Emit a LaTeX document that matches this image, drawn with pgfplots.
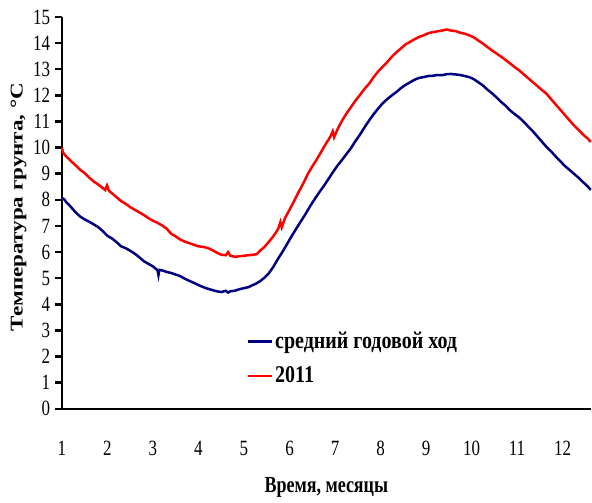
\documentclass[border=0pt]{standalone}
\usepackage{pgfplots}
\pgfplotsset{compat=1.18}
\usepackage{fontspec}
\setmainfont{Liberation Serif}
\definecolor{navyb}{RGB}{0,0,128}
\definecolor{redr}{RGB}{255,0,0}
\begin{document}
\fontsize{17}{20}\selectfont
\begin{tikzpicture}
\begin{axis}[
  scale only axis,
  width=529pt, height=392pt,
  xmin=1, xmax=12.62, ymin=0, ymax=15,
  axis x line=bottom, axis y line=left,
  axis line style={line width=2.5pt,-},
  xtick={1,...,12}, ytick={0,...,15},
  x tick style={draw=none},
  y tick style={line width=2.5pt,black},
  tick align=outside,
  major tick length=7pt,
  xticklabel style={yshift=-14pt},
  yticklabel style={xshift=1pt},
  /pgf/number format/assume math mode=true,
  ticklabel style={font=\fontsize{17}{20}\selectfont, yscale=1.28},
  xlabel={\scalebox{1}[1.28]{\textbf{Время, месяцы}}},
  ylabel={\scalebox{1.28}[1]{\textbf{Температура грунта, °C}}},
  label style={font=\fontsize{18}{20}\selectfont},
  xlabel style={yshift=-8pt},
  ylabel style={yshift=-5pt, xshift=6pt},
  legend style={draw=none, fill=none, at={(0.343,0.208)}, anchor=north west,
    font=\fontsize{20}{22}\selectfont\bfseries, row sep=10pt,
    /tikz/every even column/.append style={column sep=2pt},
    nodes={yscale=1.2}},
  legend cell align=left,
  legend image post style={line width=2.5pt},
  legend image code/.code={\draw[#1] (0cm,0cm) -- (0.85cm,0cm);},
  clip=false,
]
\addplot[navyb, line width=2.5pt] coordinates {
(1.0,8.07)(1.05,8.02)(1.1,7.90)(1.15,7.82)(1.2,7.72)(1.3,7.52)(1.4,7.36)(1.5,7.25)
(1.6,7.16)(1.7,7.06)(1.8,6.95)(1.9,6.80)(2.0,6.62)(2.1,6.52)(2.2,6.38)(2.3,6.22)
(2.4,6.15)(2.5,6.05)(2.6,5.94)(2.7,5.80)(2.8,5.65)(2.9,5.55)(3.0,5.45)(3.05,5.38)
(3.1,5.30)(3.12,5.12)(3.14,5.32)(3.2,5.30)(3.3,5.24)(3.4,5.20)(3.5,5.14)(3.6,5.08)
(3.7,4.98)(3.8,4.90)(3.9,4.82)(4.0,4.74)(4.1,4.66)(4.2,4.60)(4.3,4.55)(4.4,4.50)
(4.5,4.47)(4.6,4.52)(4.65,4.45)(4.7,4.50)(4.8,4.52)(4.9,4.58)(5.0,4.62)(5.1,4.66)
(5.17,4.72)(5.25,4.78)(5.35,4.88)(5.45,5.02)(5.55,5.20)(5.65,5.45)(5.75,5.75)(5.85,6.02)
(5.95,6.32)(6.05,6.62)(6.15,6.90)(6.25,7.18)(6.35,7.45)(6.45,7.75)(6.55,8.02)(6.65,8.28)
(6.75,8.52)(6.85,8.78)(6.95,9.05)(7.05,9.30)(7.15,9.52)(7.25,9.75)(7.35,9.98)(7.45,10.25)
(7.55,10.50)(7.65,10.78)(7.75,11.04)(7.85,11.28)(7.95,11.50)(8.05,11.70)(8.15,11.86)(8.25,12.00)
(8.35,12.13)(8.45,12.28)(8.55,12.40)(8.65,12.50)(8.75,12.60)(8.85,12.67)(8.95,12.70)(9.05,12.74)
(9.15,12.75)(9.25,12.78)(9.35,12.77)(9.45,12.81)(9.55,12.82)(9.65,12.80)(9.75,12.78)(9.85,12.74)
(9.95,12.70)(10.05,12.62)(10.15,12.50)(10.25,12.38)(10.35,12.22)(10.45,12.08)(10.55,11.92)(10.65,11.75)
(10.75,11.60)(10.85,11.42)(10.95,11.28)(11.05,11.15)(11.15,10.98)(11.25,10.80)(11.35,10.62)(11.45,10.42)
(11.55,10.22)(11.65,10.02)(11.75,9.85)(11.85,9.66)(11.95,9.48)(12.05,9.30)(12.15,9.15)(12.25,9.00)
(12.35,8.85)(12.45,8.68)(12.55,8.52)(12.62,8.38)
};
\addlegendentry{средний годовой ход}
\addplot[redr, line width=2.5pt] coordinates {
(1.0,10.0)(1.02,9.82)(1.05,9.75)(1.1,9.65)(1.2,9.48)(1.3,9.32)(1.4,9.15)(1.5,9.02)
(1.6,8.85)(1.7,8.70)(1.8,8.58)(1.9,8.45)(1.95,8.38)(1.99,8.55)(2.03,8.35)(2.1,8.25)
(2.2,8.10)(2.3,7.95)(2.4,7.85)(2.5,7.72)(2.6,7.62)(2.7,7.52)(2.8,7.42)(2.9,7.30)
(3.0,7.20)(3.1,7.12)(3.2,7.02)(3.3,6.90)(3.4,6.70)(3.5,6.60)(3.6,6.48)(3.7,6.40)
(3.8,6.34)(3.9,6.28)(4.0,6.22)(4.1,6.20)(4.2,6.16)(4.3,6.08)(4.4,5.98)(4.5,5.90)
(4.6,5.88)(4.65,6.00)(4.7,5.86)(4.8,5.82)(4.9,5.84)(5.0,5.86)(5.1,5.88)(5.2,5.90)
(5.28,5.92)(5.35,6.05)(5.45,6.20)(5.55,6.40)(5.65,6.62)(5.75,6.88)(5.8,7.15)(5.83,6.95)
(5.9,7.30)(6.0,7.62)(6.1,7.95)(6.2,8.30)(6.3,8.62)(6.4,8.98)(6.5,9.28)(6.6,9.55)
(6.7,9.85)(6.8,10.15)(6.9,10.42)(6.95,10.62)(6.98,10.40)(7.05,10.68)(7.15,11.02)(7.25,11.30)
(7.35,11.55)(7.45,11.80)(7.55,12.02)(7.65,12.25)(7.75,12.45)(7.85,12.70)(7.95,12.92)(8.05,13.10)
(8.15,13.28)(8.25,13.48)(8.35,13.65)(8.45,13.80)(8.55,13.95)(8.65,14.05)(8.75,14.15)(8.85,14.24)
(8.95,14.30)(9.05,14.38)(9.15,14.42)(9.25,14.45)(9.35,14.48)(9.45,14.52)(9.55,14.48)(9.65,14.46)
(9.75,14.40)(9.85,14.36)(9.95,14.30)(10.05,14.22)(10.15,14.10)(10.25,13.98)(10.35,13.85)(10.45,13.72)
(10.55,13.60)(10.65,13.48)(10.75,13.35)(10.85,13.22)(10.95,13.08)(11.05,12.95)(11.15,12.80)(11.25,12.65)
(11.35,12.50)(11.45,12.35)(11.55,12.20)(11.65,12.06)(11.75,11.85)(11.85,11.65)(11.95,11.45)(12.05,11.25)
(12.15,11.05)(12.25,10.85)(12.35,10.68)(12.45,10.50)(12.55,10.35)(12.62,10.22)
};
\addlegendentry{2011}
\end{axis}
\path ([yshift=17pt]current axis.north west) ([xshift=-62pt]current axis.south west);
\end{tikzpicture}
\end{document}
